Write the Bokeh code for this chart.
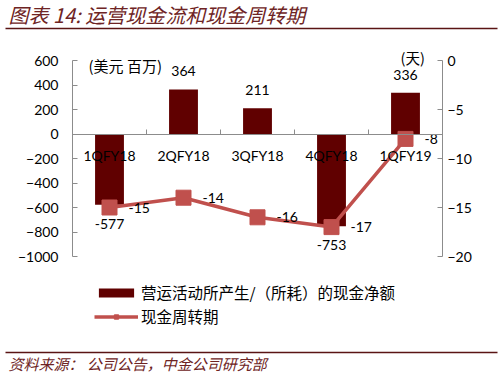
from bokeh.plotting import figure
from bokeh.models import (Range1d, LinearAxis, FixedTicker, Legend, LegendItem,
                          ColumnDataSource)
from bokeh.core.properties import value
from bokeh.embed import file_html
from bokeh.resources import INLINE

# ---------------- data ----------------
categories = ["1QFY18", "2QFY18", "3QFY18", "4QFY18", "1QFY19"]
cash_flow = [-577, 364, 211, -753, 336]          # 美元 百万
cycle_days = [-15, -14, -16, -17, -8]            # 天
cash_ticks = [-1000, -800, -600, -400, -200, 0, 200, 400, 600]
day_ticks = [-20, -15, -10, -5, 0]
series_names = ["营运活动所产生/（所耗）的现金净额", "现金周转期"]
cash_unit = "(美元 百万)"
day_unit = "(天)"
title_text = "图表 14: 运营现金流和现金周转期"
source_text = "资料来源：  公司公告，中金公司研究部"

# ---------------- styles / layout (pixels) ----------------
BAR = "#600000"
LINE = "#C0504D"
AXIS = "#8C8C8C"
RULE = "#5A1414"
TITLE_C = "#6E2424"
LATIN = "Lato"
CJK = "Noto Sans CJK SC"
W, H = 499, 376
PLOT_L, PLOT_R = 72, 442          # x pixels of the two value axes
AX_TOP, AX_BOT = 60, 256          # y pixels of the top / bottom ticks

n = len(categories)
xc = [i + 0.5 for i in range(n)]
bounds = [i for i in range(1, n)]

kx = n / (PLOT_R - PLOT_L)
def fx(px):                        # pixel column -> x data coordinate
    return (px - PLOT_L) * kx

def yr(lo, hi):
    k = (hi - lo) / (AX_BOT - AX_TOP)
    return lo - (H - AX_BOT) * k, hi + AX_TOP * k, k

c_lo, c_hi, kc = yr(cash_ticks[0], cash_ticks[-1])
d_lo, d_hi, kd = yr(day_ticks[0], day_ticks[-1])
def fy(py):                        # pixel row -> cash data coordinate
    return cash_ticks[-1] + (AX_TOP - py) * kc

p = figure(width=W, height=H, x_range=Range1d(fx(0), fx(W)),
           y_range=Range1d(c_lo, c_hi),
           x_axis_type=None, y_axis_type=None, min_border=0,
           outline_line_color=None, toolbar_location=None,
           output_backend="svg")
p.xgrid.visible = False
p.ygrid.visible = False
p.extra_y_ranges = {"days": Range1d(d_lo, d_hi)}

def style_axis(ax):
    ax.axis_line_color = AXIS
    ax.axis_line_width = 1
    ax.major_tick_line_color = AXIS
    ax.major_tick_in = 5
    ax.major_tick_out = 0
    ax.minor_tick_line_color = None
    ax.major_label_text_font = LATIN
    ax.major_label_text_font_size = "14px"
    ax.major_label_text_color = "#000000"

left = LinearAxis(ticker=FixedTicker(ticks=cash_ticks), fixed_location=0,
                  bounds=(cash_ticks[0], cash_ticks[-1]))
style_axis(left)
left.major_label_standoff = 14
p.add_layout(left, "left")

right = LinearAxis(y_range_name="days", ticker=FixedTicker(ticks=day_ticks),
                   fixed_location=n, bounds=(day_ticks[0], day_ticks[-1]))
style_axis(right)
right.major_label_standoff = 5
p.add_layout(right, "right")

xax = LinearAxis(fixed_location=0, bounds=(0, n),
                 ticker=FixedTicker(ticks=xc, minor_ticks=bounds),
                 major_label_overrides={x: c for x, c in zip(xc, categories)})
style_axis(xax)
xax.major_tick_line_color = None
xax.minor_tick_line_color = AXIS
xax.minor_tick_in = 5
xax.minor_tick_out = 0
xax.major_label_standoff = 13
p.add_layout(xax, "below")

src = ColumnDataSource(dict(
    x=xc, cash=cash_flow, days=cycle_days, cat=categories,
    cash_lbl=[str(v) for v in cash_flow],
    day_lbl=[str(v) for v in cycle_days],
    cash_off=[-18 if v >= 0 else 19 for v in cash_flow],
))

bars = p.vbar(x="x", top="cash", bottom=0, width=0.39, source=src,
              fill_color=BAR, line_color=None)
ln = p.line(x="x", y="days", y_range_name="days", source=src,
            line_color=LINE, line_width=3.5)
mk = p.scatter(x="x", y="days", y_range_name="days", source=src,
               marker="square", size=15, fill_color=LINE, line_color=LINE)

p.text(x="x", y="cash", text="cash_lbl", y_offset="cash_off", source=src,
       text_font=value(LATIN), text_font_size="14px", text_color="#000000",
       text_align="center", text_baseline="middle")
p.text(x="x", y="days", text="day_lbl", y_range_name="days", source=src,
       x_offset=19, text_font=value(LATIN), text_font_size="14px",
       text_color="#000000", text_align="left", text_baseline="middle")

# unit captions
p.text(x=[fx(88)], y=[fy(65)], text=[cash_unit],
       text_font=value(CJK), text_font_size="15px", text_color="#000000",
       text_align="left", text_baseline="middle")
p.text(x=[fx(400)], y=[fy(57)], text=[day_unit],
       text_font=value(CJK), text_font_size="14.5px", text_color="#000000",
       text_align="left", text_baseline="middle")

# title, rules and source line
p.text(x=[fx(8)], y=[fy(14)], text=[title_text], text_font=value(CJK),
       text_font_size="20px", text_font_style="italic", text_color=TITLE_C,
       text_align="left", text_baseline="middle")
p.segment(x0=[fx(5), fx(5)], x1=[fx(497), fx(497)], y0=[fy(28), fy(352)],
          y1=[fy(28), fy(352)], line_color=RULE, line_width=1.6)
p.text(x=[fx(8)], y=[fy(363)], text=[source_text], text_font=value(CJK),
       text_font_size="15px", text_font_style="italic", text_color=TITLE_C,
       text_align="left", text_baseline="middle")

legend = Legend(items=[LegendItem(label=series_names[0], renderers=[bars]),
                       LegendItem(label=series_names[1], renderers=[ln, mk])],
                location=(94, 49), orientation="vertical",
                glyph_width=44, glyph_height=11, label_height=20,
                label_standoff=3, spacing=2, padding=0, margin=0,
                border_line_color=None, background_fill_alpha=0,
                label_text_font=CJK, label_text_font_size="15.5px",
                label_text_color="#000000")
p.add_layout(legend, "center")

open("out.html", "w").write(file_html(p, INLINE))
